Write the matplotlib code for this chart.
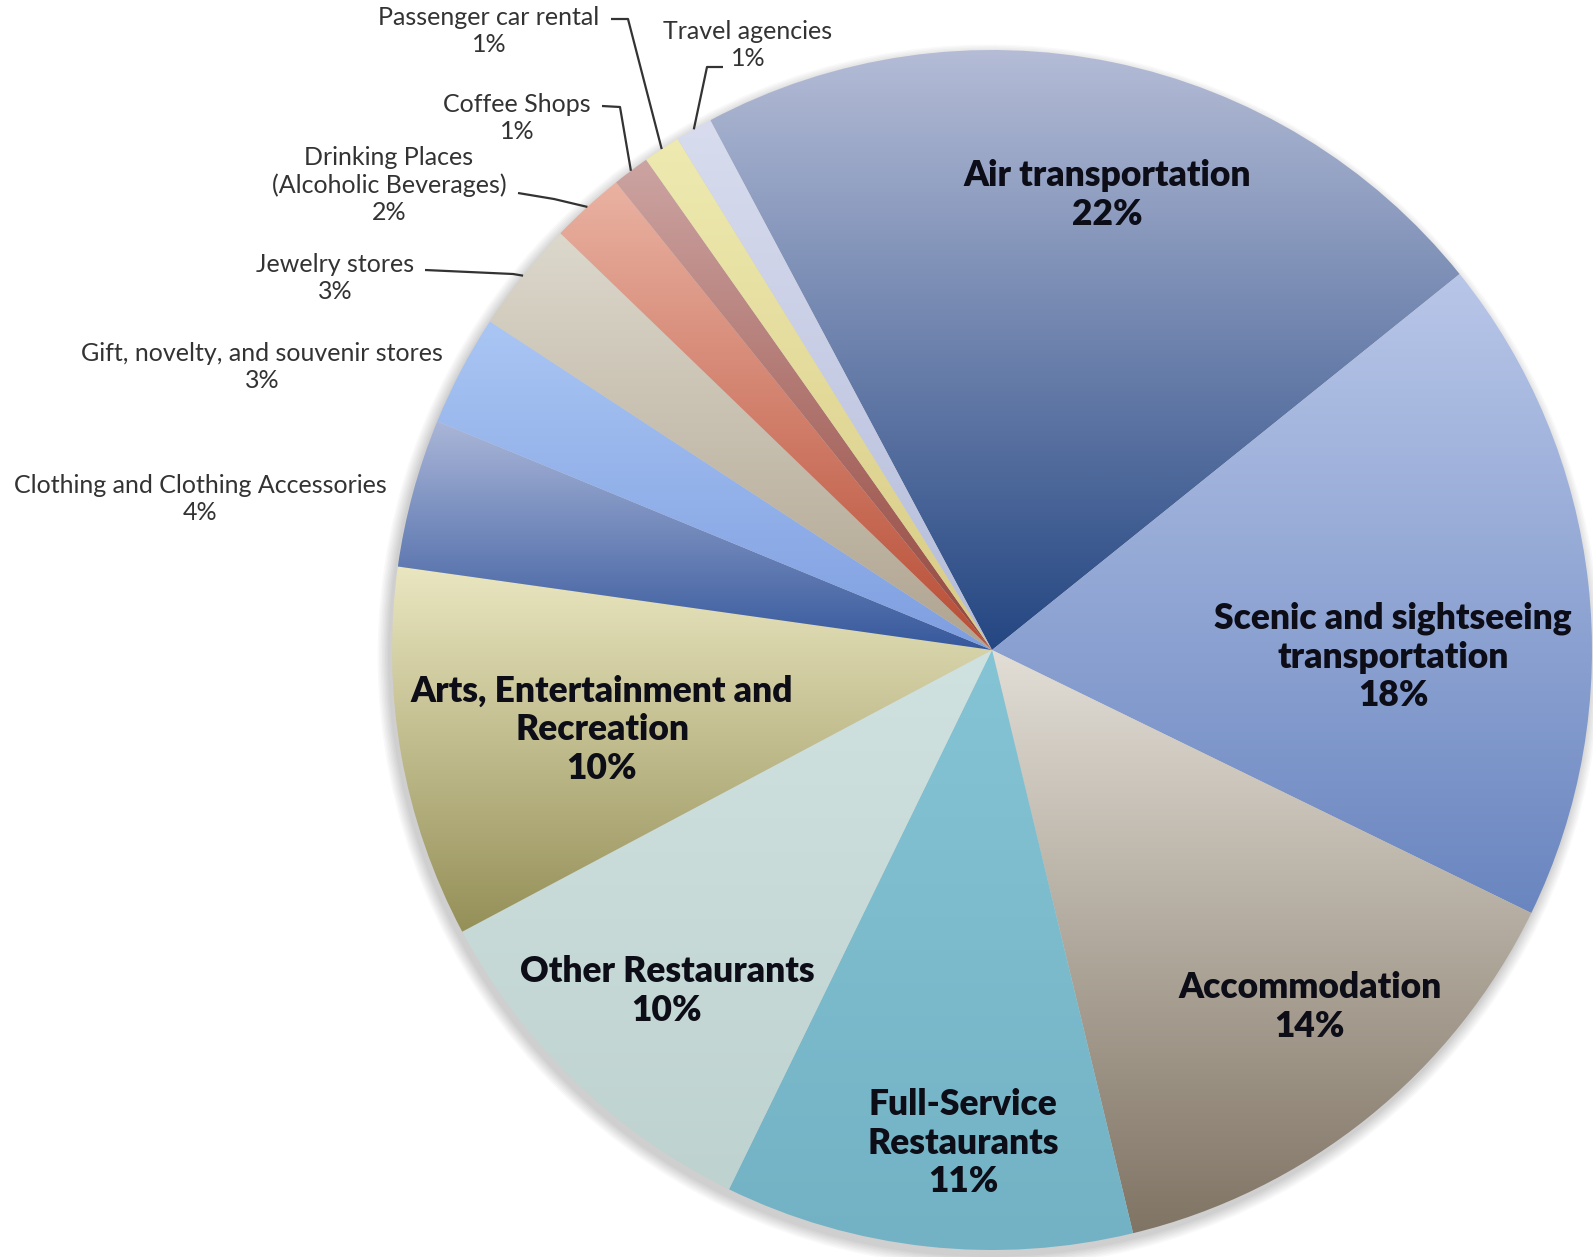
import numpy as np
import matplotlib.pyplot as plt
from matplotlib.colors import to_rgb
from matplotlib.patches import Circle

plt.rcParams['font.family'] = ['Lato', 'DejaVu Sans']

#%% data
categories = ['Air transportation', 'Scenic and sightseeing\ntransportation', 'Accommodation',
              'Full-Service\nRestaurants', 'Other Restaurants', 'Arts, Entertainment and\nRecreation',
              'Clothing and Clothing Accessories', 'Gift, novelty, and souvenir stores',
              'Jewelry stores', 'Drinking Places\n(Alcoholic Beverages)', 'Coffee Shops',
              'Passenger car rental', 'Travel agencies']
shares = [22, 18, 14, 11, 10, 10, 4, 3, 3, 2, 1, 1, 1]

# vertical gradient per slice: light at the top, darker at the bottom
top_colors = ['#b4bcd6', '#b8c6e8', '#e2ded6', '#84c4d4', '#d0e2e0', '#eae6c0',
              '#aab6d8', '#aac6f4', '#dcd8cc', '#eab2a2', '#cca4a2', '#eeeab0', '#d8dcee']
bottom_colors = ['#244682', '#6a86c0', '#807464', '#72b2c4', '#bed2d0', '#959058',
                 '#36589c', '#7e9ee0', '#b0a490', '#b84c34', '#94463c', '#d8ca84', '#b4bcda']

#%% layout (pixel coordinates, y measured from the top)
W, H = 1593, 1257
cx, cy, R = 992, 650, 600

big_pos = {0: (1107, 195), 1: (1393, 657), 2: (1310, 1007), 3: (963, 1143),
           4: (667, 991), 5: (602, 730)}
small_pos = {6: (200, 499), 7: (262, 367), 8: (335, 278), 9: (389, 185),
             10: (517, 118), 11: (489, 31), 12: (748, 45)}
# leader lines: horizontal stub next to the text, then down to the slice edge
leaders = {8: [(425, 270), (513, 274)],
           9: [(518, 193), (554, 199)],
           10: [(602, 106), (620, 107)],
           11: [(611, 19), (628, 19)],
           12: [(723, 67), (707, 67)]}


def Y(y):
    return H - y


fig = plt.figure(figsize=(W / 100, H / 100), dpi=100)
ax = fig.add_axes([0, 0, 1, 1])

# soft drop shadow under the pie
for k in range(8):
    ax.add_patch(Circle((cx - 3, Y(cy) - 6), R + 1 + k * 1.5, color='k',
                        alpha=0.025, lw=0, zorder=0))

wedges, _ = ax.pie(shares, center=(cx, Y(cy)), radius=R, startangle=118,
                   counterclock=False, wedgeprops=dict(linewidth=0))

g = np.linspace(0, 1, 256)[:, None]
for w, c0, c1 in zip(wedges, top_colors, bottom_colors):
    w.set_facecolor('none')
    w.set_edgecolor('none')
    w.set_zorder(1)
    ext = w.get_path().get_extents()
    rgb = (1 - g) * np.array(to_rgb(c0)) + g * np.array(to_rgb(c1))
    im = ax.imshow(rgb[:, None, :], extent=[ext.x0, ext.x1, ext.y0, ext.y1],
                   origin='upper', aspect='auto', interpolation='bilinear', zorder=1)
    im.set_clip_path(w)

for i, (x, y) in big_pos.items():
    ax.text(x, Y(y), f'{categories[i]}\n{shares[i]}%', ha='center', va='center',
            fontsize=25.5, fontweight='heavy', color='#0d0d18', linespacing=1.2, zorder=3)

for i, (x, y) in small_pos.items():
    ax.text(x, Y(y), f'{categories[i]}\n{shares[i]}%', ha='center', va='center',
            fontsize=18, color='#333333', linespacing=1.2, zorder=3)

for i, pts in leaders.items():
    w = wedges[i]
    mid = np.deg2rad((w.theta1 + w.theta2) / 2)
    ex, ey = w.center[0] + R * np.cos(mid), w.center[1] + R * np.sin(mid)
    xs = [p[0] for p in pts] + [ex]
    ys = [Y(p[1]) for p in pts] + [ey]
    ax.plot(xs, ys, color='#333333', lw=1.6, zorder=2, solid_capstyle='butt')

ax.set_xlim(0, W)
ax.set_ylim(0, H)
ax.set_aspect('equal')
ax.axis('off')

plt.savefig('out.png', dpi=100, facecolor='white')
